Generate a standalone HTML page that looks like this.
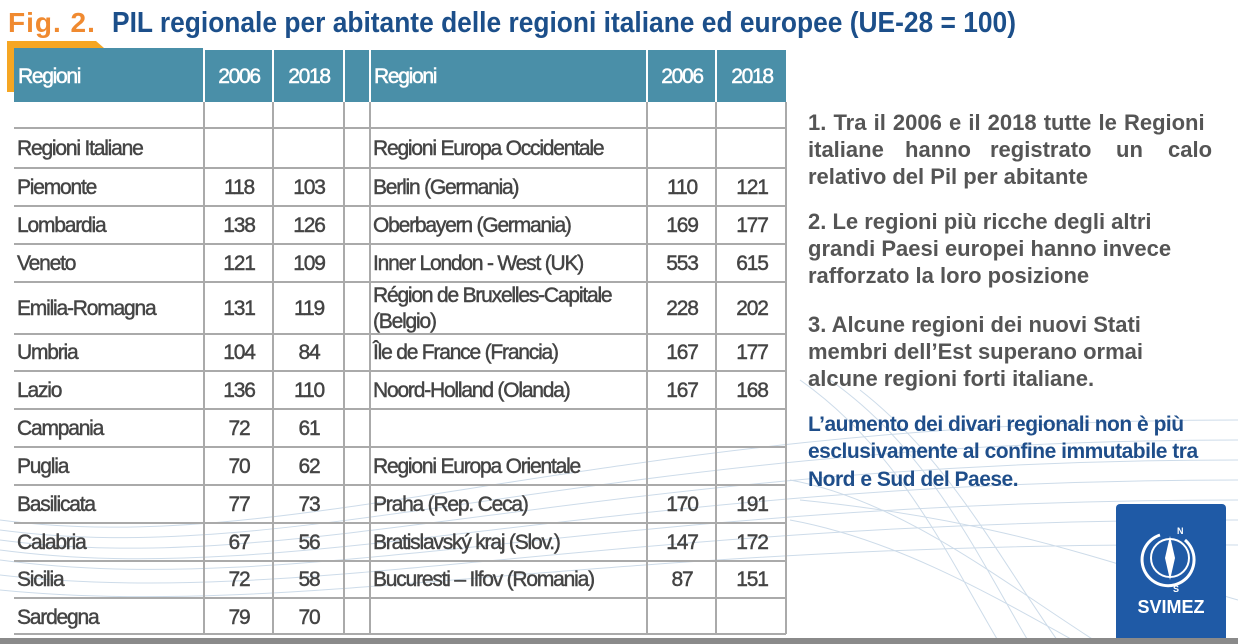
<!DOCTYPE html>
<html><head><meta charset="utf-8"><style>
html,body{margin:0;padding:0;background:#fff;}
svg{display:block;}
.t{font-family:"Liberation Sans",sans-serif;font-size:21px;fill:#444;stroke:#444;stroke-width:0.45px;letter-spacing:-1.2px;}
.n{text-anchor:middle;}
.h{font-family:"Liberation Sans",sans-serif;font-size:21px;fill:#fff;stroke:#fff;stroke-width:0.5px;letter-spacing:-1.3px;}
.r{font-family:"Liberation Sans",sans-serif;font-size:22px;fill:#555;font-weight:bold;}
.b{font-family:"Liberation Sans",sans-serif;font-size:21px;fill:#1f4e8a;font-weight:bold;letter-spacing:-0.5px;}
</style></head><body>
<svg width="1238" height="644" viewBox="0 0 1238 644" xmlns="http://www.w3.org/2000/svg">
<g fill="none" stroke="#b8cde0" stroke-width="1" opacity="0.7">
<path d="M0 520 C300 560 600 420 1238 420"/>
<path d="M0 530 C300 570 600 440 1238 440"/>
<path d="M0 540 C300 580 600 460 1238 460"/>
<path d="M0 550 C300 590 600 480 1238 480"/>
<path d="M0 560 C300 600 600 500 1238 500"/>
<path d="M0 575 C300 610 600 520 1238 520"/>
<path d="M0 590 C300 620 600 540 1238 545"/>
<path d="M800 380 C900 450 950 560 1000 644"/>
<path d="M830 380 C930 450 980 560 1030 644"/>
<path d="M860 390 C950 460 1000 560 1060 644"/>
<path d="M790 480 C900 500 1000 580 1100 644"/>
<path d="M790 520 C900 540 1000 600 1080 644"/>
<path d="M800 500 C1000 520 1100 560 1238 600"/>
</g>
<text x="8" y="32" font-family="Liberation Sans,sans-serif" font-size="28" font-weight="bold" fill="#f08a30" letter-spacing="1">Fig. 2.</text>
<text x="112" y="32" font-family="Liberation Sans,sans-serif" font-size="29" font-weight="bold" fill="#1c4f8a" textLength="904" lengthAdjust="spacingAndGlyphs">PIL regionale per abitante delle regioni italiane ed europee (UE-28 = 100)</text>
<path d="M7 41 L96 41 L104 48 L14 48 L14 92 L7 92 Z" fill="#f5a623"/>
<g fill="#4a8fa8">
<rect x="14" y="48" width="189" height="54"/>
<rect x="205" y="50" width="67" height="52"/>
<rect x="274" y="50" width="69" height="52"/>
<rect x="345" y="50" width="24" height="52"/>
<rect x="371" y="50" width="275" height="52"/>
<rect x="648" y="50" width="67" height="52"/>
<rect x="717" y="50" width="69" height="52"/>
</g>
<text class="h" x="18" y="83">Regioni</text>
<text class="h n" x="239" y="83">2006</text>
<text class="h n" x="309" y="83">2018</text>
<text class="h" x="374" y="83">Regioni</text>
<text class="h n" x="682" y="83">2006</text>
<text class="h n" x="752" y="83">2018</text>
<g stroke="#aaa" stroke-width="2">
<line x1="204" y1="102" x2="204" y2="634"/>
<line x1="273" y1="102" x2="273" y2="634"/>
<line x1="344" y1="102" x2="344" y2="634"/>
<line x1="370" y1="102" x2="370" y2="634"/>
<line x1="647" y1="102" x2="647" y2="634"/>
<line x1="716" y1="102" x2="716" y2="634"/>
<line x1="786" y1="102" x2="786" y2="634"/>
<line x1="14" y1="128" x2="786" y2="128"/>
<line x1="14" y1="168" x2="786" y2="168"/>
<line x1="14" y1="206" x2="786" y2="206"/>
<line x1="14" y1="244" x2="786" y2="244"/>
<line x1="14" y1="282" x2="786" y2="282"/>
<line x1="14" y1="334" x2="786" y2="334"/>
<line x1="14" y1="371" x2="786" y2="371"/>
<line x1="14" y1="409" x2="786" y2="409"/>
<line x1="14" y1="447" x2="786" y2="447"/>
<line x1="14" y1="485" x2="786" y2="485"/>
<line x1="14" y1="523" x2="786" y2="523"/>
<line x1="14" y1="561" x2="786" y2="561"/>
<line x1="14" y1="598" x2="786" y2="598"/>
<line x1="14" y1="634" x2="786" y2="634"/>
</g>
<g class="t">
<text x="17" y="155">Regioni Italiane</text>
<text x="17" y="194">Piemonte</text><text class="n" x="239" y="194">118</text><text class="n" x="309" y="194">103</text>
<text x="17" y="232">Lombardia</text><text class="n" x="239" y="232">138</text><text class="n" x="309" y="232">126</text>
<text x="17" y="270">Veneto</text><text class="n" x="239" y="270">121</text><text class="n" x="309" y="270">109</text>
<text x="17" y="315">Emilia-Romagna</text><text class="n" x="239" y="315">131</text><text class="n" x="309" y="315">119</text>
<text x="17" y="359">Umbria</text><text class="n" x="239" y="359">104</text><text class="n" x="309" y="359">84</text>
<text x="17" y="397">Lazio</text><text class="n" x="239" y="397">136</text><text class="n" x="309" y="397">110</text>
<text x="17" y="435">Campania</text><text class="n" x="239" y="435">72</text><text class="n" x="309" y="435">61</text>
<text x="17" y="473">Puglia</text><text class="n" x="239" y="473">70</text><text class="n" x="309" y="473">62</text>
<text x="17" y="511">Basilicata</text><text class="n" x="239" y="511">77</text><text class="n" x="309" y="511">73</text>
<text x="17" y="549">Calabria</text><text class="n" x="239" y="549">67</text><text class="n" x="309" y="549">56</text>
<text x="17" y="586">Sicilia</text><text class="n" x="239" y="586">72</text><text class="n" x="309" y="586">58</text>
<text x="17" y="624">Sardegna</text><text class="n" x="239" y="624">79</text><text class="n" x="309" y="624">70</text>

<text x="373" y="155">Regioni Europa Occidentale</text>
<text x="373" y="194">Berlin (Germania)</text><text class="n" x="682" y="194">110</text><text class="n" x="752" y="194">121</text>
<text x="373" y="232">Oberbayern (Germania)</text><text class="n" x="682" y="232">169</text><text class="n" x="752" y="232">177</text>
<text x="373" y="270">Inner London - West (UK)</text><text class="n" x="682" y="270">553</text><text class="n" x="752" y="270">615</text>
<text x="373" y="302">Région de Bruxelles-Capitale</text>
<text x="373" y="328">(Belgio)</text><text class="n" x="682" y="315">228</text><text class="n" x="752" y="315">202</text>
<text x="373" y="359">Île de France (Francia)</text><text class="n" x="682" y="359">167</text><text class="n" x="752" y="359">177</text>
<text x="373" y="397">Noord-Holland (Olanda)</text><text class="n" x="682" y="397">167</text><text class="n" x="752" y="397">168</text>
<text x="373" y="473">Regioni Europa Orientale</text>
<text x="373" y="511">Praha (Rep. Ceca)</text><text class="n" x="682" y="511">170</text><text class="n" x="752" y="511">191</text>
<text x="373" y="549">Bratislavský kraj (Slov.)</text><text class="n" x="682" y="549">147</text><text class="n" x="752" y="549">172</text>
<text x="373" y="586">Bucuresti – Ilfov (Romania)</text><text class="n" x="682" y="586">87</text><text class="n" x="752" y="586">151</text>
</g>
<g class="r">
<text x="808" y="130" word-spacing="1">1. Tra il 2006 e il 2018 tutte le Regioni</text>
<text x="808" y="157">italiane</text><text x="905" y="157">hanno</text><text x="990" y="157">registrato</text><text x="1116" y="157">un</text><text x="1168" y="157">calo</text>
<text x="808" y="184">relativo del Pil per abitante</text>
<text x="808" y="229">2. Le regioni più ricche degli altri</text>
<text x="808" y="256">grandi Paesi europei hanno invece</text>
<text x="808" y="283">rafforzato la loro posizione</text>
<text x="808" y="332">3. Alcune regioni dei nuovi Stati</text>
<text x="808" y="359">membri dell’Est superano ormai</text>
<text x="808" y="386">alcune regioni forti italiane.</text>
</g>
<g class="b">
<text x="808" y="431">L’aumento dei divari regionali non è più</text>
<text x="808" y="458">esclusivamente al confine immutabile tra</text>
<text x="808" y="486">Nord e Sud del Paese.</text>
</g>
<rect x="1116" y="504" width="110" height="138" rx="4" fill="#1f5aa6"/>
<g fill="none" stroke="#fff" stroke-width="3">
<path d="M1160 535 A26 26 0 1 0 1185 540"/>
</g>
<circle cx="1170" cy="558" r="19" fill="none" stroke="#fff" stroke-width="2"/>
<path d="M1170 536 L1175 558 L1170 580 L1165 558 Z" fill="#fff"/>
<text x="1177" y="534" font-family="Liberation Sans,sans-serif" font-size="9" font-weight="bold" fill="#fff">N</text>
<text x="1173" y="592" font-family="Liberation Sans,sans-serif" font-size="9" font-weight="bold" fill="#fff">S</text>
<text x="1171" y="613" text-anchor="middle" font-family="Liberation Sans,sans-serif" font-size="18" font-weight="bold" fill="#fff">SVIMEZ</text>
<rect x="0" y="638" width="1238" height="6" fill="#8a8a8a"/>
</svg>
</body></html>
